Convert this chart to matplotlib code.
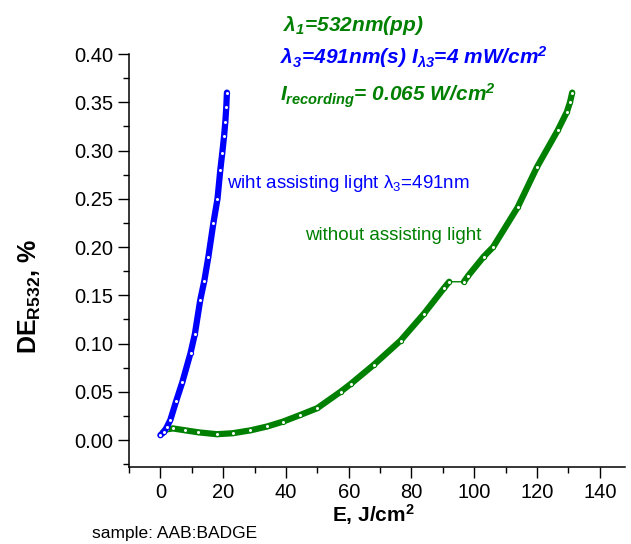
import numpy as np
import matplotlib
matplotlib.use("Agg")
import matplotlib.pyplot as plt
from matplotlib.ticker import MultipleLocator, FormatStrFormatter

plt.rcParams['font.family'] = ['Liberation Sans', 'DejaVu Sans']
plt.rcParams['mathtext.default'] = 'regular'

# blue: with assisting light (491 nm)
blue_x = [0.0, 1.0, 2.0, 3.2, 5.0, 7.0, 9.6, 11.0, 12.7, 14.0, 15.3, 16.9,
          18.2, 19.1, 19.7, 20.3, 20.7, 21.0, 21.2]
blue_y = [0.005, 0.008, 0.013, 0.021, 0.040, 0.060, 0.090, 0.110, 0.145,
          0.165, 0.190, 0.225, 0.250, 0.280, 0.297, 0.315, 0.330, 0.345, 0.360]

# green: without assisting light, two runs joined by a thin line
green_x1 = [0.8, 2.0, 4.0, 8.0, 12.0, 18.0, 23.0, 28.7, 34.0, 39.0, 44.6,
            50.0, 57.4, 60.6, 68.0, 76.5, 84.0, 90.5, 92.0]
green_y1 = [0.008, 0.011, 0.012, 0.010, 0.008, 0.006, 0.007, 0.010, 0.014,
            0.019, 0.026, 0.033, 0.050, 0.058, 0.078, 0.103, 0.131, 0.158, 0.164]
green_x2 = [96.7, 98.0, 103.0, 106.0, 113.8, 120.0, 126.6, 129.5, 130.5, 131.2]
green_y2 = [0.164, 0.170, 0.190, 0.200, 0.241, 0.283, 0.321, 0.340, 0.350, 0.360]

BLUE = '#0000ff'
GREEN = '#008000'

fig = plt.figure(figsize=(6.31, 5.44), dpi=100)
ax = fig.add_axes([0.2044, 0.1415, 0.786, 0.7592])

# thin connecting line, then thick "dense marker" runs
ax.plot(green_x1 + green_x2, green_y1 + green_y2, color=GREEN, lw=1)
for gx, gy in [(green_x1, green_y1), (green_x2, green_y2)]:
    ax.plot(gx, gy, color=GREEN, lw=4.5, solid_capstyle='round')
    ax.plot(gx, gy, 'o', color=GREEN, mfc='white', ms=3, mew=0.8)
ax.plot(blue_x, blue_y, color=BLUE, lw=4.5, solid_capstyle='round')
ax.plot(blue_x, blue_y, 'o', color=BLUE, mfc='white', ms=3, mew=0.8)

ax.set_xlim(-10, 148)
ax.set_ylim(-0.028, 0.40)
ax.xaxis.set_major_locator(MultipleLocator(20))
ax.xaxis.set_minor_locator(MultipleLocator(10))
ax.yaxis.set_major_locator(MultipleLocator(0.05))
ax.yaxis.set_minor_locator(MultipleLocator(0.025))
ax.yaxis.set_major_formatter(FormatStrFormatter('%.2f'))
ax.tick_params(which='major', direction='out', length=8, width=1, labelsize=14.5)
ax.tick_params(which='minor', direction='out', length=4, width=1)
for s in ['top', 'right']:
    ax.spines[s].set_visible(False)
for s in ['left', 'bottom']:
    ax.spines[s].set_linewidth(1.1)

fig.text(0.0475, 0.455, 'DE$_{R532}$, %', rotation=90, ha='center', va='center',
         fontsize=18, fontweight='bold')
fig.text(0.591, 0.040, 'E, J/cm$^{2}$', ha='center', va='baseline',
         fontsize=15, fontweight='bold')
fig.text(0.146, 0.020, 'sample: AAB:BADGE', ha='left', va='center', fontsize=12.5)

ax.text(21.3, 0.266, 'wiht assisting light λ$_3$=491nm', color=BLUE,
        fontsize=13.5, ha='left', va='center')
ax.text(46.2, 0.212, 'without assisting light', color=GREEN,
        fontsize=13.5, ha='left', va='center')

top_kw = dict(fontsize=15, fontweight='bold', style='italic', va='baseline', ha='left')
fig.text(0.4485, 0.943, 'λ$_1$=532nm(pp)', color=GREEN, **top_kw)
fig.text(0.4437, 0.882, 'λ$_3$=491nm(s) I$_{λ3}$=4 mW/cm$^2$', color=BLUE, **top_kw)
fig.text(0.4437, 0.8125, 'I$_{recording}$= 0.065 W/cm$^2$', color=GREEN, **top_kw)

fig.savefig('out.png', dpi=100)
